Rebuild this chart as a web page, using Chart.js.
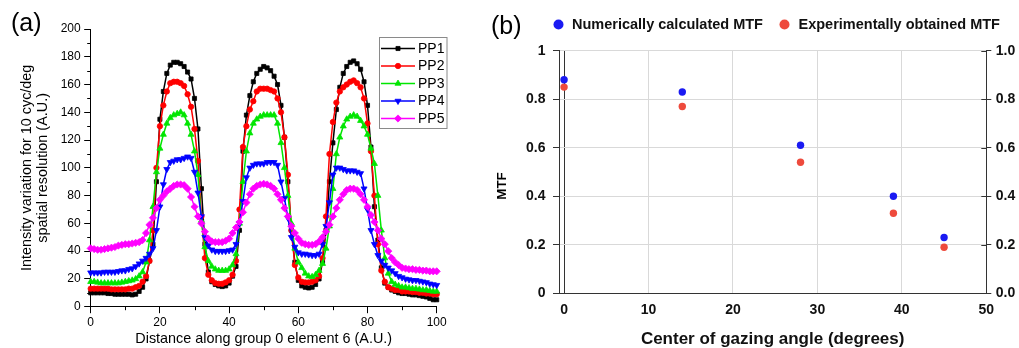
<!DOCTYPE html>
<html><head><meta charset="utf-8">
<script src="https://cdn.jsdelivr.net/npm/chart.js@4/dist/chart.umd.min.js"></script>
<style>
html,body{margin:0;padding:0;background:#fff;width:1019px;height:348px;overflow:hidden;position:relative}
#ca{position:absolute;left:0;top:0}
#cb{position:absolute;left:470px;top:0}
.lbl{position:absolute;font-family:"Liberation Sans",Arial,sans-serif;font-size:25px;line-height:29px;color:#000;white-space:nowrap}
</style></head><body>
<canvas id="ca" width="470" height="348"></canvas>
<canvas id="cb" width="549" height="348"></canvas>
<div class="lbl" style="left:11px;top:8px">(a)</div>
<div class="lbl" style="left:491px;top:11px">(b)</div>
<script>
const FONT = "'Liberation Sans', Arial, Helvetica, sans-serif";
Chart.defaults.font.family = FONT;
Chart.defaults.color = '#000';

// ---------- Panel (a) data ----------
const distance = [0,1,2,3,4,5,6,7,8,9,10,11,12,13,14,15,16,17,18,19,20,21,22,23,24,25,26,27,28,29,30,31,32,33,34,35,36,37,38,39,40,41,42,43,44,45,46,47,48,49,50,51,52,53,54,55,56,57,58,59,60,61,62,63,64,65,66,67,68,69,70,71,72,73,74,75,76,77,78,79,80,81,82,83,84,85,86,87,88,89,90,91,92,93,94,95,96,97,98,99,100];
const pp1 = [10,10,10,10,10,9.5,9.5,9,9,9,
  9,9,8.5,9,11,14,20,33,45,90,
  135,155,168,174,176,176,175,173,169,164,
  150,128,85,45,25,18,16,15,14.5,15,
  17,22,29,55,112,138,152,162,168,171,
  173,172,170,166,160,145,122,90,55,32,
  19,15,14,13.5,14,16,20,32,55,90,
  118,142,158,168,173,176,177,175,171,162,
  145,115,72,48,28,17,14,12,11,10,
  9.5,9.5,9,8.5,8.5,8,7.5,7,6,5,5];
const pp2 = [13,13,13,13,13,13,12.5,12.5,12.5,12.5,
  12.5,13,13,14,15,18,22,33,55,100,
  130,145,155,161,162,162,161,159,153,144,
  128,105,65,35,23,19,17,16.5,16.5,17.5,
  19,23,33,70,115,130,142,148,155,157,
  157,157,156,155,150,140,122,95,55,30,
  21,18,17.5,17.5,18,19,22,35,65,110,
  133,147,155,158,160,162,163,161,158,150,
  132,112,80,45,26,18,14,13,12,12,
  11,11,11,10.5,10.5,10,10,9.5,9.5,9,9];
const pp3 = [18,18,17.5,17,17,17,17,17,17,17.5,
  18,18.5,19,20,22,25,32,48,72,97,
  114,124,132,136,138,139,140,138,132,124,
  112,95,62,43,33,29,27,26,26,26,
  27,30,38,60,90,112,125,132,135,137,
  138,138,138,138,132,118,100,80,60,42,
  32,28,24,22,21.5,23,26,31,42,58,
  85,110,122,130,135,137,138,137,134,130,
  124,114,103,80,55,35,24,18,16,15,
  14,14,13.5,13,13,12.5,12,12,11.5,11,11];
const pp4 = [24.5,24.5,24.5,24.5,25,25,25,25,25.5,26,
  26,27,27.5,29,31,33,35,38,42,55,
  72,88,99,104,105,106,106,107,108,107,
  97,82,65,50,44,41,40,40,40,40,
  40.5,41,45,60,76,93,100,102,103,103,
  103,104,104,104,102,90,78,64,50,43,
  39,38,38,37.5,37,37,38,45,58,75,
  95,100,100,99,98,98,98,97,96,85,
  70,55,45,37,33,30,28,26,24,22,
  21,20,19.5,19,19,18.5,18,17.5,16.5,16,15.5];
const pp5 = [42,41.5,41,41,41.5,42,42.5,43,44,44.5,
  45,45,45.5,46,46.5,48,53,59,64,71,
  77,80,83,85,87,88,88,87.5,85,79,
  72,65,60,54,49,47,46.5,46.5,46.5,47.5,
  49,53,57,61,68,75,81,85,87,88,
  88.5,88,87,85,81,77,71,65,58,53,
  49,46,45,44.5,44.5,45,47,50,54,59,
  65,71,77,81,84,85,85,84,81,77,
  72,66,61,55,49,45,40,35,32,30,
  28,27.5,27,27,26.5,26.5,26,26,25.5,25.5,25.5];
const seriesNames = ['PP1','PP2','PP3','PP4','PP5'];
const xTicksA = [0,20,40,60,80,100];
const yTicksA = [0,20,40,60,80,100,120,140,160,180,200];
const xMinorA = [10,30,50,70,90];
const yMinorA = [10,30,50,70,90,110,130,150,170,190];

// ---------- Panel (b) data ----------
const angle = [0,14,28,39,45];
const mtfNumerical = [0.88,0.83,0.61,0.40,0.23];
const mtfExperimental = [0.85,0.77,0.54,0.33,0.19];
const angleTicks = [0,10,20,30,40,50];
const mtfTicks = [0,0.2,0.4,0.6,0.8,1.0];
const legendB = ['Numerically calculated MTF','Experimentally obtained MTF'];

// ---------- styles ----------
const styleA = [
  {color:'#000000', shape:'rect', rot:0, r:2.9},
  {color:'#ff0000', shape:'circle', rot:0, r:2.7},
  {color:'#00e600', shape:'triangle', rot:0, r:3.5},
  {color:'#0000ff', shape:'triangle', rot:180, r:3.5},
  {color:'#ff00ff', shape:'rectRot', rot:0, r:3.6}
];
const valuesA = [pp1,pp2,pp3,pp4,pp5];

function marker(ctx, shape, rot, r, x, y, color){
  ctx.save();
  ctx.fillStyle = color; ctx.strokeStyle = color; ctx.lineWidth = 0.8;
  ctx.beginPath();
  if (shape === 'rect') { const s = r*Math.SQRT1_2; ctx.rect(x-s,y-s,2*s,2*s); }
  else if (shape === 'circle') { ctx.arc(x,y,r,0,Math.PI*2); }
  else if (shape === 'rectRot') { ctx.moveTo(x,y-r); ctx.lineTo(x+r,y); ctx.lineTo(x,y+r); ctx.lineTo(x-r,y); ctx.closePath(); }
  else if (shape === 'triangle') {
    const d = rot ? -1 : 1;
    ctx.moveTo(x, y - d*r); ctx.lineTo(x + r*0.866, y + d*r*0.5); ctx.lineTo(x - r*0.866, y + d*r*0.5); ctx.closePath();
  }
  ctx.fill(); ctx.stroke();
  ctx.restore();
}

const pluginA = {
  id:'extrasA',
  afterDraw(chart){
    const ctx = chart.ctx, xs = chart.scales.x, ys = chart.scales.y, ca = chart.chartArea;
    ctx.save();
    ctx.strokeStyle = '#000'; ctx.lineWidth = 1;
    ctx.beginPath();
    xMinorA.forEach(v=>{ const px = Math.round(xs.getPixelForValue(v))+0.5; ctx.moveTo(px, ca.bottom); ctx.lineTo(px, ca.bottom+3.5); });
    yMinorA.forEach(v=>{ const py = Math.round(ys.getPixelForValue(v))+0.5; ctx.moveTo(ca.left, py); ctx.lineTo(ca.left-3.5, py); });
    ctx.stroke();
    // legend
    ctx.fillStyle = '#fff'; ctx.strokeStyle = '#8a8a8a'; ctx.lineWidth = 1;
    ctx.fillRect(379.5,37.5,67.5,91); ctx.strokeRect(379.5,37.5,67.5,91);
    ctx.font = '14px ' + FONT; ctx.textBaseline = 'middle'; ctx.textAlign = 'left';
    seriesNames.forEach((name,i)=>{
      const y = 48.5 + i*17.5, st = styleA[i];
      ctx.strokeStyle = st.color; ctx.lineWidth = 1.6;
      ctx.beginPath(); ctx.moveTo(381,y); ctx.lineTo(415,y); ctx.stroke();
      marker(ctx, st.shape, st.rot, st.r, 398, y, st.color);
      ctx.fillStyle = '#000'; ctx.fillText(name, 418, y+0.5);
    });
    ctx.restore();
  }
};

new Chart(document.getElementById('ca'), {
  type:'line',
  data:{ datasets: seriesNames.map((name,i)=>({
    label:name,
    data: valuesA[i].map((v,j)=>({x:distance[j], y:v})),
    borderColor: styleA[i].color, backgroundColor: styleA[i].color,
    borderWidth:1.5, pointStyle: styleA[i].shape, pointRotation: styleA[i].rot,
    pointRadius: styleA[i].r, pointBorderWidth:0.8, pointHoverRadius: styleA[i].r,
    tension:0, clip:false, order: 5-i
  }))},
  options:{
    responsive:false, animation:false, events:[],
    layout:{padding:{top:29, right:33.3, left:0, bottom:0}},
    plugins:{legend:{display:false}, tooltip:{enabled:false}},
    scales:{
      x:{type:'linear', min:0, max:100,
        afterBuildTicks: s=>{ s.ticks = xTicksA.map(v=>({value:v})); },
        afterFit: s=>{ s.height = 41.3; },
        grid:{drawOnChartArea:false, drawTicks:true, tickLength:6.5, color:'#000', tickColor:'#000'},
        border:{display:true, color:'#000', width:1},
        ticks:{font:{size:12}, color:'#000', padding:2, maxRotation:0, autoSkip:false},
        title:{display:true, text:'Distance along group 0 element 6 (A.U.)', font:{size:14.4, lineHeight:1.2}, color:'#000', padding:{top:0,bottom:0}}
      },
      y:{type:'linear', min:0, max:200,
        afterBuildTicks: s=>{ s.ticks = yTicksA.map(v=>({value:v})); },
        afterFit: s=>{ s.width = 90.7; },
        grid:{drawOnChartArea:false, drawTicks:true, tickLength:6.5, color:'#000', tickColor:'#000'},
        border:{display:true, color:'#000', width:1},
        ticks:{font:{size:12}, color:'#000', padding:3.5, autoSkip:false},
        title:{display:true, text:['Intensity variation for 10 cyc/deg','spatial resolution (A.U.)'], font:{size:14.4, lineHeight:1.1}, color:'#000', padding:{top:19,bottom:0}}
      }
    }
  },
  plugins:[pluginA]
});

// ---------- Panel (b) ----------
const colNum = '#1a1af2', colExp = '#ee4a3c';
const pluginB = {
  id:'extrasB',
  afterDraw(chart){
    const ctx = chart.ctx, ca = chart.chartArea, y2 = chart.scales.y2;
    ctx.save();
    ctx.strokeStyle = '#333'; ctx.lineWidth = 1;
    ctx.beginPath();
    mtfTicks.forEach(v=>{ const py = Math.round(y2.getPixelForValue(v))+0.5; ctx.moveTo(ca.right-5, py); ctx.lineTo(ca.right, py); });
    ctx.stroke();
    // y title
    ctx.save();
    ctx.translate(32, 186); ctx.rotate(-Math.PI/2);
    ctx.font = 'bold 13.5px ' + FONT; ctx.fillStyle = '#000'; ctx.textAlign = 'center'; ctx.textBaseline = 'middle';
    ctx.fillText('MTF', 0, 0);
    ctx.restore();
    // legend
    ctx.font = 'bold 14.5px ' + FONT; ctx.textBaseline = 'middle'; ctx.textAlign = 'left';
    const items = [{x:88.5, tx:102, c:colNum},{x:314.5, tx:328.5, c:colExp}];
    legendB.forEach((t,i)=>{
      ctx.fillStyle = items[i].c; ctx.beginPath(); ctx.arc(items[i].x, 24.5, 5, 0, Math.PI*2); ctx.fill();
      ctx.fillStyle = '#111'; ctx.fillText(t, items[i].tx, 25);
    });
    ctx.restore();
  }
};

const boldTick = {size:14, weight:'bold'};
new Chart(document.getElementById('cb'), {
  type:'scatter',
  data:{ datasets:[
    {label:legendB[0], data: angle.map((a,i)=>({x:a, y:mtfNumerical[i]})), backgroundColor:colNum, borderColor:colNum, pointRadius:3.7, pointBorderWidth:0, clip:false},
    {label:legendB[1], data: angle.map((a,i)=>({x:a, y:mtfExperimental[i]})), backgroundColor:colExp, borderColor:colExp, pointRadius:3.7, pointBorderWidth:0, clip:false}
  ]},
  options:{
    responsive:false, animation:false, events:[],
    layout:{padding:{top:50.7, left:0, right:0, bottom:0}},
    plugins:{legend:{display:false}, tooltip:{enabled:false}},
    scales:{
      x:{type:'linear', min:-0.6, max:50,
        afterBuildTicks: s=>{ s.ticks = angleTicks.map(v=>({value:v})); },
        afterFit: s=>{ s.height = 54.7; },
        grid:{drawTicks:false, color: c => (c.tick && (c.tick.value===0 || c.tick.value===50)) ? '#333' : '#d9d9d9', lineWidth:1},
        border:{display:true, color:'#333', width:1},
        ticks:{font:boldTick, color:'#111', padding:8.5, maxRotation:0, autoSkip:false},
        title:{display:true, text:'Center of gazing angle (degrees)', font:{size:17, weight:'bold', lineHeight:1}, color:'#111', padding:{top:0,bottom:0}}
      },
      y:{type:'linear', position:'left', min:0, max:1,
        afterBuildTicks: s=>{ s.ticks = mtfTicks.map(v=>({value:v})); },
        afterFit: s=>{ s.width = 89; },
        grid:{color: c => (c.tick && c.tick.value===0) ? '#333' : '#d9d9d9', tickColor:'#333', tickLength:6, lineWidth:1},
        border:{display:true, color:'#333', width:1},
        ticks:{font:boldTick, color:'#111', padding:7.5, autoSkip:false, callback: v => String(+Number(v).toFixed(2))}
      },
      y2:{type:'linear', position:'right', min:0, max:1,
        afterBuildTicks: s=>{ s.ticks = mtfTicks.map(v=>({value:v})); },
        afterFit: s=>{ s.width = 32.7; },
        grid:{drawOnChartArea:false, color:'#333', tickColor:'#333', tickLength:5},
        border:{display:true, color:'#333', width:1},
        ticks:{font:boldTick, color:'#111', padding:4.5, autoSkip:false, callback: v => Number(v).toFixed(1)}
      }
    }
  },
  plugins:[pluginB]
});
</script>
</body></html>
